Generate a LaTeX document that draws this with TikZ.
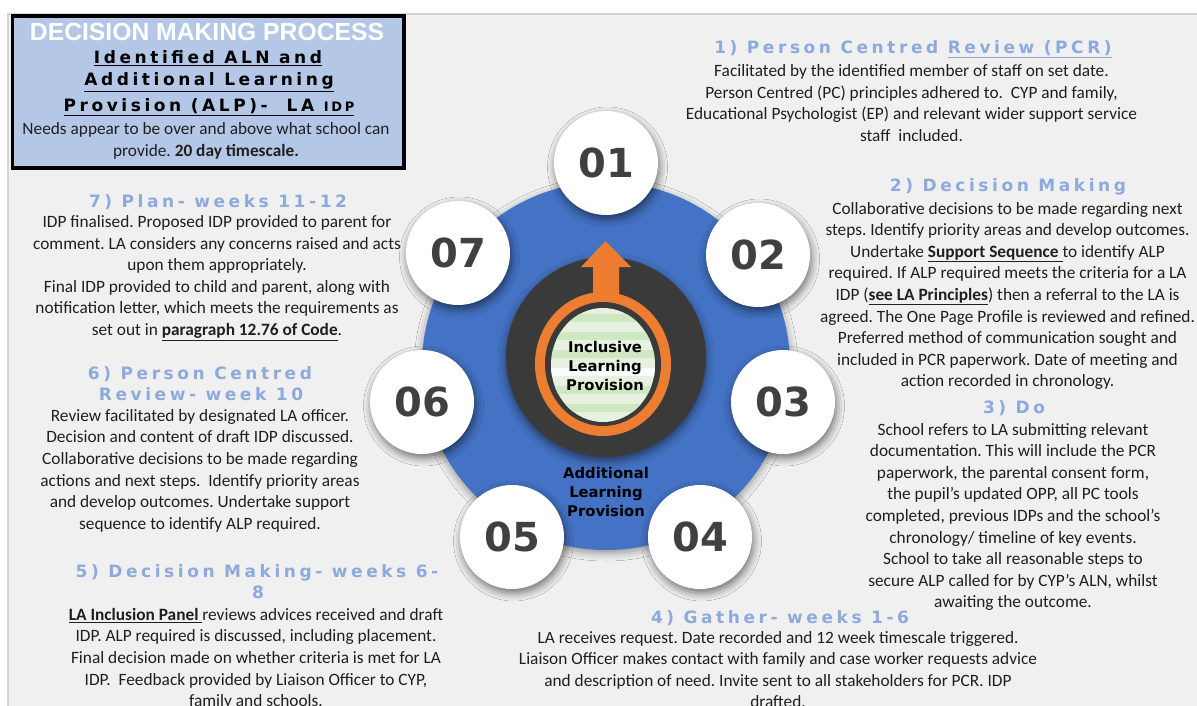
\documentclass[tikz,border=0pt]{standalone}
\usepackage{fontspec}
\setmainfont{Carlito}
\newfontfamily\headfont[LetterSpace=21]{DejaVu Sans}
\newfontfamily\arialfont{Liberation Sans}
\newfontfamily\numfont{DejaVu Sans}
\usetikzlibrary{shadows.blur}
\frenchspacing
\definecolor{bgpanel}{HTML}{F0F0F0}
\definecolor{panelline}{HTML}{D4D4D4}
\definecolor{titlefill}{HTML}{B4C7E7}
\definecolor{headblue}{HTML}{8EA9DB}
\definecolor{ringblue}{HTML}{4472C4}
\definecolor{darkring}{HTML}{3A3A3A}
\definecolor{orangering}{HTML}{ED7D31}
\definecolor{numgray}{HTML}{404040}
\definecolor{greenA}{HTML}{E6F2DF}
\definecolor{greenB}{HTML}{D0E7C4}
\definecolor{bodytext}{HTML}{1F1F1F}
\begin{document}
\begin{tikzpicture}[x=1pt,y=-1pt,
  bodytxt/.style={font=\frenchspacing\fontsize{17.3}{21.6}\selectfont, text=bodytext, align=center, inner sep=0pt, anchor=north},
  headtxt/.style={font=\headfont\bfseries\fontsize{17}{21}\selectfont, text=headblue, inner sep=0pt, anchor=base},
  titleline/.style={font=\headfont\bfseries\fontsize{17}{21}\selectfont, text=black, inner sep=0pt, anchor=base},
  numdisc/.style={circle, fill=white, minimum size=104pt, inner sep=0pt,
     blur shadow={shadow xshift=1.5pt, shadow yshift=-4pt, shadow blur radius=8pt, shadow opacity=55},
     font=\numfont\bfseries\fontsize{40}{40}\selectfont, text=numgray},
  centretxt/.style={font=\numfont\bfseries\fontsize{14.8}{19}\selectfont, text=black, align=center, inner sep=0pt}
]
\useasboundingbox (0,0) rectangle (1197,706);
\clip (0,0) rectangle (1197,706);
\fill[white] (0,0) rectangle (1197,706);
\filldraw[fill=bgpanel, draw=panelline, line width=2pt] (8,14) rectangle (1210,720);

% central graphic
\fill[ringblue, blur shadow={shadow xshift=0pt, shadow yshift=-3pt, shadow blur radius=8pt, shadow opacity=40}] (606,366) circle[radius=184pt];
\fill[darkring, blur shadow={shadow xshift=0pt, shadow yshift=-4pt, shadow blur radius=8pt, shadow opacity=50}] (606,357) circle[radius=100pt];
\fill[orangering] (593,295) -- (593,267) -- (581,267) -- (605.5,241) -- (631,267) -- (619,267) -- (619,295) -- cycle;
\fill[orangering] (603,364) ellipse[x radius=68pt, y radius=72pt];
\fill[darkring] (603,364) ellipse[x radius=58pt, y radius=62pt];
\begin{scope}
  \clip (603,365) ellipse[x radius=52pt, y radius=57pt];
  \fill[greenA] (540,300) rectangle (670,430);
  \foreach \yy in {314,332,350,386,404,422} \fill[greenB] (540,\yy) rectangle (670,\yy+8);
  \fill[white!85!greenA] (540,368) rectangle (670,376);
\end{scope}
\node[centretxt] (ilp) at (605,366) {Inclusive\\Learning\\Provision};
\node[centretxt] (alp) at (606,492) {Additional\\Learning\\Provision};

% numbered discs
\node[numdisc] (n1) at (606,163) {01};
\node[numdisc] (n2) at (758,255) {02};
\node[numdisc] (n3) at (783,402) {03};
\node[numdisc] (n4) at (700,537) {04};
\node[numdisc] (n5) at (512,537) {05};
\node[numdisc] (n6) at (422,402) {06};
\node[numdisc] (n7) at (458,253) {07};

% title box
\node[draw=black, line width=3.6pt, fill=titlefill, minimum width=391.4pt, minimum height=152.1pt, inner sep=0pt, anchor=north west] (titlebox) at (10.8,14.1) {};
\node[font=\arialfont\bfseries\fontsize{24.7}{28}\selectfont, text=white, anchor=base, inner sep=0pt] (ttl) at (207,41) {DECISION MAKING PROCESS};
\node[titleline] (t1) at (208,64) {\underline{Identified ALN and}};
\node[titleline] (t2) at (209,86) {\underline{Additional Learning}};
\node[titleline] (t3) at (209,112) {\underline{Provision (ALP)-\ \ LA {\fontsize{13}{14}\selectfont IDP}}};
\node[bodytxt, anchor=base] (t4) at (206,135) {Needs appear to be over and above what school can};
\node[bodytxt, anchor=base] (t5) at (206,157) {provide. \textbf{20 day timescale.}};

% headings
\node[headtxt] (h1) at (913,54) {1) Person Centred \underline{Review (PCR)}};
\node[headtxt] (h2) at (1008,192) {2) Decision Making};
\node[headtxt] (h3) at (1014,413) {3) Do};
\node[headtxt] (h4) at (780,623) {4) Gather- weeks 1-6};
\node[headtxt] (h5a) at (257,577) {5) Decision Making- weeks 6-};
\node[headtxt] (h5b) at (258,598) {8};
\node[headtxt] (h6a) at (200,379) {6) Person Centred};
\node[headtxt] (h6b) at (201,400) {Review- week 10};
\node[headtxt] (h7) at (218,207) {7) Plan- weeks 11-12};

% body texts
\node[bodytxt] (b1) at (911.5,64.2) {Facilitated by the identified member of staff on set date.\\Person Centred (PC) principles adhered to.\ \ CYP and family,\\Educational Psychologist (EP) and relevant wider support service\\staff\ \ included.};
\node[bodytxt] (b2) at (1007.5,201.8) {Collaborative decisions to be made regarding next\\steps. Identify priority areas and develop outcomes.\\Undertake \underline{\textbf{Support Sequence }}to identify ALP\\required. If ALP required meets the criteria for a LA\\IDP (\underline{\textbf{see LA Principles}}) then a referral to the LA is\\agreed. The One Page Profile is reviewed and refined.\\Preferred method of communication sought and\\included in PCR paperwork. Date of meeting and\\action recorded in chronology.};
\node[bodytxt] (b3) at (1013,422.8) {School refers to LA submitting relevant\\documentation. This will include the PCR\\paperwork, the parental consent form,\\the pupil’s updated OPP, all PC tools\\completed, previous IDPs and the school’s\\chronology/ timeline of key events.\\School to take all reasonable steps to\\secure ALP called for by CYP’s ALN, whilst\\awaiting the outcome.};
\node[bodytxt] (b4) at (778,630.8) {LA receives request. Date recorded and 12 week timescale triggered.\\Liaison Officer makes contact with family and case worker requests advice\\and description of need. Invite sent to all stakeholders for PCR. IDP\\drafted.};
\node[bodytxt] (b5) at (256,608) {\underline{\textbf{LA Inclusion Panel }}reviews advices received and draft\\IDP. ALP required is discussed, including placement.\\Final decision made on whether criteria is met for LA\\IDP.\ \ Feedback provided by Liaison Officer to CYP,\\family and schools.};
\node[bodytxt] (b6) at (200,409) {Review facilitated by designated LA officer.\\Decision and content of draft IDP discussed.\\Collaborative decisions to be made regarding\\actions and next steps.\ \ Identify priority areas\\and develop outcomes. Undertake support\\sequence to identify ALP required.};
\node[bodytxt] (b7) at (217,215.3) {IDP finalised. Proposed IDP provided to parent for\\comment. LA considers any concerns raised and acts\\upon them appropriately.\\Final IDP provided to child and parent, along with\\notification letter, which meets the requirements as\\set out in \underline{\textbf{paragraph 12.76 of Code}}.};
\end{tikzpicture}
\end{document}
